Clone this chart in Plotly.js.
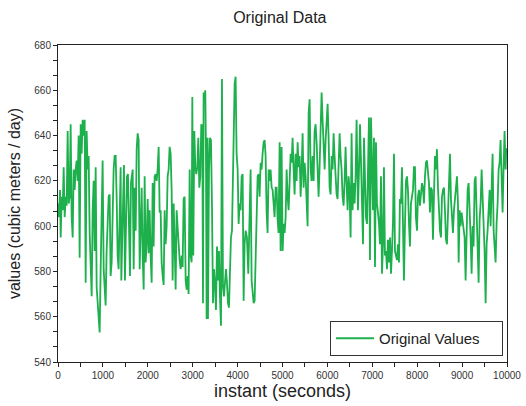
<!DOCTYPE html>
<html>
<head>
<meta charset="utf-8">
<script src="https://cdn.plot.ly/plotly-3.0.1.min.js"></script>
<style>html,body{margin:0;padding:0;background:#fff;}#chart{width:526px;height:406px;}</style>
</head>
<body>
<div id="chart"></div>
<script>
// Instants (seconds) and values (cubic meters / day), in segments
var t1 = [0,22,45,60,82,104,126,149,171,193,215,238,260,282,304,327,349,371,393,416,438,460,482,505,527,549,572,594,616,638,661,683,705,727,750,772,794,816,839,861,883,905,928,950,972,994,1017,1039,1061,1083,1106,1128,1150,1172,1195,1217,1239,1261,1284,1306,1328,1350,1373,1395,1410,1432,1454,1469,1491,1514,1536,1558,1580,1603,1625,1648];
var v1 = [610,604,616,595,613,607,626,604,613,609,642,610,613,645,604,595,625,616,625,629,620,640,586,645,632,647,640,647,575,642,625,631,597,587,569,607,620,589,626,573,566,560,553,581,607,629,581,575,565,589,601,613,614,578,584,607,625,631,631,613,587,581,617,626,576,592,610,627,576,607,622,623,589,578,619,625];
var t2 = [1663,1685,1707,1730,1752,1774,1796,1819,1841,1863,1885,1908,1930,1952,1974,1997,2019,2041,2063,2086,2108,2130,2152,2175,2197,2219,2242,2264,2286,2308,2331,2353,2375,2397,2420,2442,2464,2486,2509,2531,2553,2576,2598,2620,2642,2665,2687,2709,2731,2754,2776,2798,2820,2843,2865,2887,2909,2932,2954,2976,2991,3013,3036,3058,3080,3102,3125,3147,3169,3191,3214,3229,3243,3266,3280,3295,3310,3332];
var v2 = [625,581,617,598,634,641,638,581,603,617,587,572,622,584,592,612,588,607,587,575,619,591,622,623,620,625,635,606,607,584,578,574,607,592,600,622,625,635,632,616,576,610,592,572,607,600,589,585,581,587,582,612,613,576,572,578,570,625,587,584,657,587,642,626,623,626,639,617,622,645,644,566,659,657,660,634,559,639];
var t3 = [3340,3363,3385,3407,3429,3452,3474,3496,3518,3541,3563,3585,3607,3630,3652,3674,3696,3719,3741,3763,3786,3808,3830,3852,3875,3897,3912,3934,3956,3978,4001,4023,4045,4067,4090,4112,4134,4156,4179,4208,4238,4268,4290,4312,4335,4357,4379,4401,4424,4446,4468,4490,4513,4535,4557,4579,4602,4624,4646,4668,4691,4713,4735,4758,4780,4802,4824,4847,4869,4891,4913,4936,4958,4980];
var v3 = [559,625,639,638,610,566,581,575,563,591,576,589,569,556,665,573,569,578,581,575,566,564,581,595,598,617,639,663,666,632,625,601,610,607,622,623,567,592,598,595,579,610,625,576,569,566,567,587,609,622,623,613,628,625,632,637,638,631,606,597,625,620,625,617,616,607,604,617,617,603,597,637,589,635];
var t4 = [5003,5025,5047,5070,5092,5114,5136,5159,5181,5203,5225,5248,5270,5292,5314,5337,5359,5381,5404,5426,5448,5470,5493,5515,5537,5559,5582,5604,5626,5648,5671,5693,5715,5737,5760,5782,5804,5826,5849,5871,5893,5916,5938,5960,5982,6005,6027,6049,6071,6094,6116,6138,6160,6183,6205,6227,6249,6272,6294,6316,6338,6361,6383,6405,6427,6450,6472,6494,6517,6539,6561,6583,6606,6628,6650];
var v4 = [589,601,597,604,625,613,607,620,632,628,639,625,614,632,620,637,626,631,613,625,641,617,628,622,609,600,650,656,625,620,631,620,642,645,637,628,613,626,644,659,647,631,625,638,645,654,639,617,614,631,625,641,631,620,614,612,628,641,631,625,613,609,620,635,619,607,622,616,595,641,607,619,610,622,647];
var t5 = [6681,6704,6726,6748,6770,6793,6815,6837,6859,6882,6904,6926,6948,6971,6993,7015,7037,7060,7082,7104,7126,7149,7171,7193,7216,7238,7260,7282,7305,7327,7349,7371,7394,7416,7438,7460,7483,7505,7527,7549,7572,7594,7616,7638,7661,7683,7705,7727,7750,7772,7794,7817,7839,7861,7883,7906,7928,7950,7972,7995,8017,8039,8061,8084,8106,8128,8150,8173,8195,8217,8239,8262,8284,8306,8329];
var v5 = [607,625,645,629,601,592,639,613,604,601,637,648,585,648,628,607,639,582,637,610,606,601,592,622,579,592,626,587,589,581,594,584,595,579,589,601,632,589,587,585,592,584,612,610,626,591,576,600,620,622,616,601,591,610,613,616,626,626,604,598,613,616,609,617,619,617,610,622,628,629,625,619,606,617,616];
var t6 = [8351,8374,8396,8418,8440,8463,8485,8507,8529,8552,8574,8596,8618,8641,8663,8685,8707,8730,8752,8774,8796,8819,8841,8863,8886,8908,8923,8945,8967,8989,9012,9034,9056,9078,9101,9123,9145,9167,9190,9212,9234,9256,9279,9301,9323,9345,9368,9390,9412,9435,9457,9479,9501,9524,9546,9568,9590,9613,9635,9657,9679,9702,9724,9746,9768,9791,9813,9835,9857,9880,9902,9924,9946,9969,9983,10000];
var v6 = [594,614,631,625,634,617,607,598,595,613,616,617,607,594,592,606,614,632,612,600,597,607,613,617,622,610,584,607,600,606,601,597,595,576,598,616,619,610,595,579,600,591,620,622,607,587,575,603,610,625,613,600,589,566,592,598,612,616,600,619,632,598,589,584,601,610,625,628,638,613,606,626,642,625,634,634];

var instants = [].concat(t1, t2, t3, t4, t5, t6);
var flowValues = [].concat(v1, v2, v3, v4, v5, v6);

var chartTitle = 'Original Data';
var xTitle = 'instant (seconds)';
var yTitle = 'values (cubic meters / day)';
var seriesName = 'Original Values';

var FONT = 'Arial, "Liberation Sans", sans-serif';

var trace = {
  x: instants,
  y: flowValues,
  type: 'scatter',
  mode: 'lines',
  name: seriesName + '\u00a0\u00a0\u00a0\u00a0',
  line: {color: '#1db04c', width: 1.8},
  showlegend: true
};

var axisCommon = {
  showline: true,
  linecolor: '#222',
  linewidth: 1,
  mirror: true,
  ticks: 'outside',
  ticklen: 4,
  tickcolor: '#222',
  tickfont: {family: FONT, size: 10, color: '#333'},
  showgrid: false,
  zeroline: false
};

var layout = {
  width: 526,
  height: 406,
  paper_bgcolor: '#fff',
  plot_bgcolor: '#fff',
  margin: {l: 58, r: 19, t: 45, b: 44},
  title: {text: chartTitle, font: {family: FONT, size: 16, color: '#222'}, x: 0.532, xanchor: 'center', y: 0.958, yanchor: 'middle'},
  xaxis: Object.assign({}, axisCommon, {
    range: [0, 10000],
    tick0: 0,
    dtick: 1000,
    tickformat: 'd',
    minor: {dtick: 500, ticklen: 4, tickcolor: '#222', ticks: 'outside'},
    title: {text: xTitle, font: {family: FONT, size: 18, color: '#222'}, standoff: 3}
  }),
  yaxis: Object.assign({}, axisCommon, {
    range: [540, 680],
    tick0: 540,
    dtick: 20,
    minor: {tick0: 540, dtick: 20 / 3, ticklen: 4, tickcolor: '#222', ticks: 'outside'},
    title: {text: yTitle, font: {family: FONT, size: 16, color: '#222'}, standoff: 9}
  }),
  legend: {
    x: 0.991, y: 0.019, xanchor: 'right', yanchor: 'bottom',
    bgcolor: '#fff', bordercolor: '#333', borderwidth: 1,
    font: {family: FONT, size: 15, color: '#222'},
    itemwidth: 38
  },
  showlegend: true
};

Plotly.newPlot('chart', [trace], layout, {displayModeBar: false, staticPlot: true});
</script>
</body>
</html>
